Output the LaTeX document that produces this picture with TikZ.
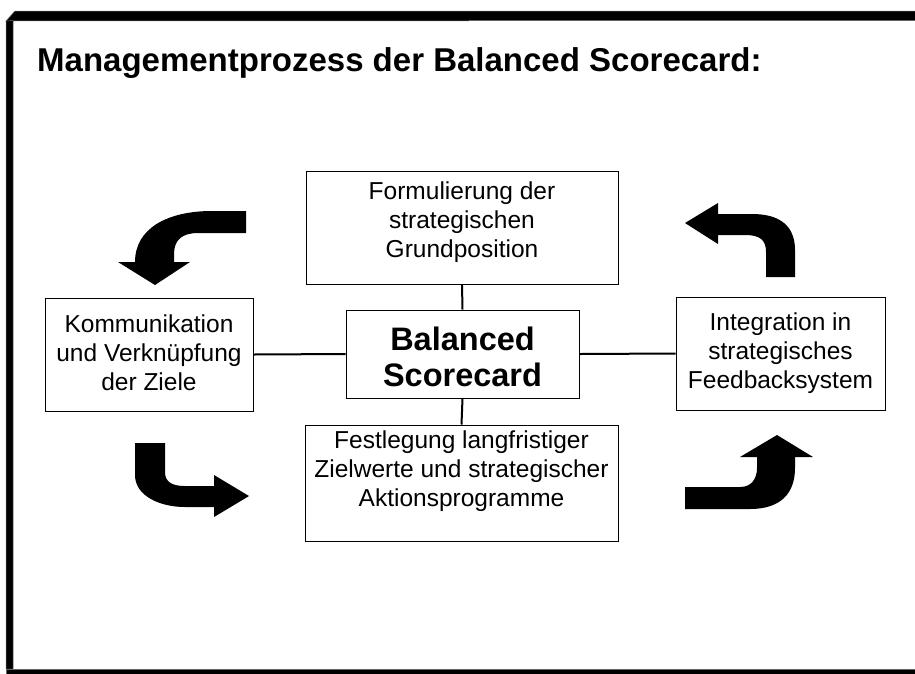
\documentclass[tikz,border=0pt]{standalone}
\usepackage{fontspec}
\setmainfont{Liberation Sans}
\begin{document}
\begin{tikzpicture}[x=1pt,y=-1pt,
  boxnode/.style={draw=black,line width=1pt,inner sep=0pt},
  boxtext/.style={inner sep=0pt,align=center,font=\fontsize{24.5}{29}\selectfont},
  link/.style={line width=2pt},
  bigarrow/.style={fill=black,draw=none},
  band/.style={fill=black,draw=black!60,line width=0.5pt}]
\useasboundingbox (0,0) rectangle (915,673);
% frame
\path[band] (6,21) -- (15,11) -- (916,11) -- (916,20.5) -- cycle;
\path[band] (6,21) -- (13,20.5) -- (13,669) -- (6,669) -- cycle;
\path[band] (6,669) rectangle (916,674);
% title
\node[anchor=base west,inner sep=0pt,font=\fontsize{33}{38}\selectfont\bfseries]
  (title) at (37,71) {Managementprozess der Balanced Scorecard:};
% boxes
\node[boxnode,minimum width=312pt,minimum height=113pt] (top) at (462,227.5) {};
\node[boxtext] (topT) at ([yshift=5pt]top.center)
  {Formulierung der\\strategischen\\Grundposition};
\node[boxnode,minimum width=233pt,minimum height=88pt] (bsc) at (462.5,354) {};
\node[boxtext,font=\fontsize{32.5}{36}\selectfont\bfseries] (bscT)
  at ([yshift=-3pt]bsc.center) {Balanced\\Scorecard};
\node[boxnode,minimum width=208pt,minimum height=113pt] (left) at (149,354.5) {};
\node[boxtext] (leftT) at ([yshift=2pt]left.center)
  {Kommunikation\\und Verknüpfung\\der Ziele};
\node[boxnode,minimum width=209pt,minimum height=113pt] (right) at (780.5,353.5) {};
\node[boxtext] (rightT) at (right.center)
  {Integration in\\strategisches\\Feedbacksystem};
\node[boxnode,minimum width=313pt,minimum height=116pt] (bottom) at (461.5,483) {};
\node[boxtext] (bottomT) at ([yshift=12pt]bottom.center)
  {Festlegung langfristiger\\Zielwerte und strategischer\\Aktionsprogramme};
% connectors
\draw[link] (top.south) -- (bsc.north);
\draw[link] (bsc.south) -- (bottom.north);
\draw[link] (left.east) -- (bsc.west);
\draw[link] (bsc.east) -- (right.west);
% curved arrows
% top-left (pointing down)
\path[bigarrow] (246,211) -- (212,211) .. controls (168,211) and (135,228) .. (135,262)
  -- (118,262) -- (155,285) -- (190,262) -- (174,262) -- (174,254)
  .. controls (174,240) and (182,233) .. (198,233) -- (246,233) -- cycle;
% top-right (pointing left)
\path[bigarrow] (795,277) -- (795,250) .. controls (795,226) and (780,214) .. (752,214)
  -- (718,214) -- (718,203) -- (685,223) -- (718,244) -- (718,235) -- (745,235)
  .. controls (760,235) and (766,240) .. (766,252) -- (766,277) -- cycle;
% bottom-left (pointing right)
\path[bigarrow] (135,443) -- (135,475) .. controls (135,496) and (160,507) .. (185,507)
  -- (214,507) -- (214,517) -- (249,496) -- (214,475) -- (214,486) -- (185,486)
  .. controls (172,486) and (165,482) .. (165,472) -- (165,443) -- cycle;
% bottom-right (pointing up)
\path[bigarrow] (685,487) -- (740,487) .. controls (752,487) and (757,478) .. (757,468)
  -- (757,457) -- (740,457) -- (777,435) -- (813,457) -- (795,457) -- (795,468)
  .. controls (795,494) and (780,509) .. (750,509) -- (685,509) -- cycle;
\end{tikzpicture}
\end{document}
